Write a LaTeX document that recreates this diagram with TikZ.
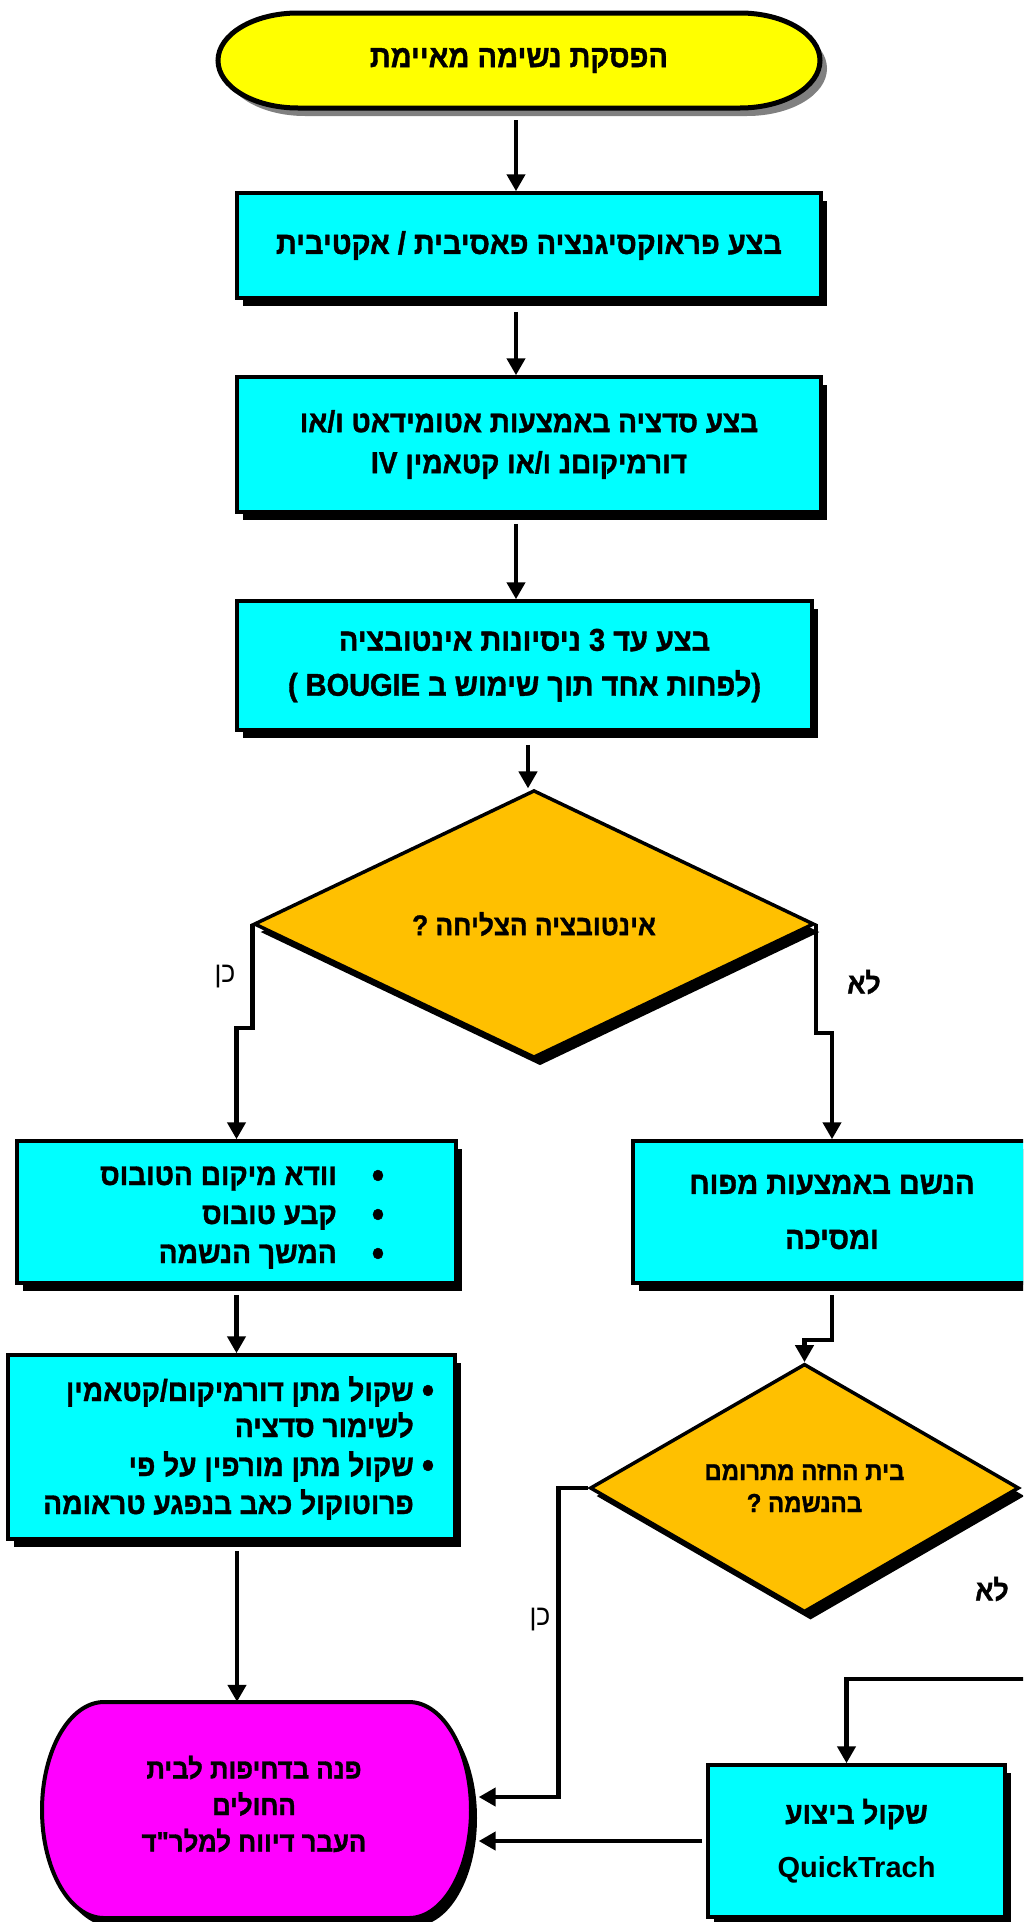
\documentclass[tikz,border=0pt]{standalone}
\usepackage{fontspec}
\setmainfont{Liberation Sans}
\newfontfamily\heb[Script=Hebrew, FakeStretch=0.92, BoldFeatures={FakeBold=1.2}]{Liberation Sans}
\newfontfamily\lat{Liberation Sans}
\TeXXeTstate=1
\usetikzlibrary{shapes.geometric,shadows,arrows.meta,calc}
\definecolor{cyanbox}{RGB}{0,255,255}
\definecolor{yelfill}{RGB}{255,255,0}
\definecolor{goldfill}{RGB}{255,192,0}
\definecolor{magfill}{RGB}{255,0,255}
\definecolor{shgray}{RGB}{128,128,128}
\tikzset{
  blackshadow/.style={drop shadow={shadow xshift=6pt, shadow yshift=-8pt, fill=black, opacity=1}},
  box/.style={rectangle, draw=black, line width=3.5pt, fill=cyanbox, inner sep=0pt, align=center,
    blackshadow, font=\heb\bfseries\fontsize{31.5}{41}\selectfont},
  dia/.style={diamond, draw=black, line width=3.5pt, fill=goldfill, inner sep=0pt, align=center,
    blackshadow, font=\heb\bfseries\fontsize{28.5}{32}\selectfont},
  termtext/.style={rectangle, inner sep=0pt, align=center, font=\heb\bfseries\fontsize{31.5}{36.5}\selectfont},
  txt/.style={inner sep=0pt, font=\heb\bfseries\fontsize{30.5}{32}\selectfont},
  bul/.style={inner sep=0pt, font=\heb\bfseries\fontsize{38}{38}\selectfont},
  conn/.style={line width=4.5pt, -{Triangle[width=18pt,length=17pt]}},
  lbl/.style={inner sep=0pt, font=\heb\fontsize{29}{30}\selectfont},
  lblb/.style={inner sep=0pt, font=\heb\bfseries\fontsize{29}{30}\selectfont},
}
\begin{document}
\begin{tikzpicture}[x=1pt,y=1pt]
\useasboundingbox (0,0) rectangle (1023,-1922);
\fill[white] (0,0) rectangle (1023,-1922);
\clip (0,0) rectangle (1023,-1922);

% top terminator
\fill[shgray] (305,-21) -- (747,-21) arc[start angle=90,end angle=-90,x radius=80,y radius=47.5]
  -- (305,-116) arc[start angle=270,end angle=90,x radius=80,y radius=47.5] -- cycle;
\filldraw[fill=yelfill, draw=black, line width=5pt] (298,-13) -- (740,-13)
  arc[start angle=90,end angle=-90,x radius=80,y radius=47.5]
  -- (298,-108) arc[start angle=270,end angle=90,x radius=80,y radius=47.5] -- cycle;
\node[termtext, minimum width=602pt, minimum height=95pt] (yel) at (519,-60.5)
  {\beginR הפסקת נשימה מאיימת\endR};

% bottom terminator
\fill[black] (110,-1710) -- (415,-1710) arc[start angle=90,end angle=-90,x radius=62,y radius=108]
  -- (110,-1926) arc[start angle=270,end angle=90,x radius=62,y radius=108] -- cycle;
\filldraw[fill=magfill, draw=black, line width=4pt] (104,-1702) -- (409,-1702)
  arc[start angle=90,end angle=-90,x radius=62,y radius=108]
  -- (104,-1918) arc[start angle=270,end angle=90,x radius=62,y radius=108] -- cycle;
\node[termtext, minimum width=429pt, minimum height=204pt, font=\heb\bfseries\fontsize{28}{36.5}\selectfont] (magn) at (254,-1804)
  {\beginR פנה בדחיפות לבית\endR\\\beginR החולים\endR\\\beginR העבר דיווח למלר"ד\endR};

% boxes
\node[box, minimum width=584pt, minimum height=105pt] (box1) at (529,-245.5)
  {\beginR בצע פראוקסיגנציה פאסיבית / אקטיבית\endR};
\node[box, minimum width=584pt, minimum height=135pt, font=\heb\bfseries\fontsize{30.5}{41}\selectfont] (box2) at (529,-444.5)
  {\beginR בצע סדציה באמצעות אטומידאט ו/או\endR\\\beginR דורמיקוםנ ו/או קטאמין IV\endR};
\node[box, minimum width=575pt, minimum height=129pt, font=\heb\bfseries\fontsize{31.5}{45}\selectfont] (box3) at (524.5,-665.5)
  {\beginR בצע עד 3 ניסיונות אינטובציה\endR\\\beginR\hbox{(}לפחות אחד תוך שימוש ב BOUGIE \hbox{)}\endR};
\node[dia, minimum width=560pt, minimum height=222pt] (d1) at (534,-924)
  {\beginR אינטובציה הצליחה ?\endR};
\node[box, minimum width=439pt, minimum height=142pt] (box4) at (236.5,-1212) {};
\node[box, minimum width=398pt, minimum height=142pt, font=\heb\bfseries\fontsize{31.5}{55}\selectfont] (box5) at (832,-1212)
  {\beginR הנשם באמצעות מפוח\endR\\\beginR ומסיכה\endR};
\node[box, minimum width=447pt, minimum height=184pt] (box6) at (231.5,-1447) {};
\node[dia, minimum width=429pt, minimum height=190pt, font=\heb\bfseries\fontsize{26}{32}\selectfont] (d2) at (804.5,-1488)
  {\beginR בית החזה מתרומם\endR\\\beginR בהנשמה ?\endR};
\node[box, minimum width=297pt, minimum height=152pt, font=\heb\bfseries\fontsize{30.5}{54}\selectfont] (box7) at (856.5,-1841)
  {\beginR שקול ביצוע\endR\\{\lat\bfseries\fontsize{29}{54}\selectfont QuickTrach}};

% bullet texts box4
\node[txt, anchor=base east] (t4a) at (337,-1185) {\beginR וודא מיקום הטובוס\endR};
\node[txt, anchor=base east] (t4b) at (337,-1224) {\beginR קבע טובוס\endR};
\node[txt, anchor=base east] (t4c) at (337,-1263) {\beginR המשך הנשמה\endR};
\node[bul, anchor=base] (u4a) at (378,-1188) {•};
\node[bul, anchor=base] (u4b) at (378,-1227) {•};
\node[bul, anchor=base] (u4c) at (378,-1266) {•};

% bullet texts box6
\node[txt, anchor=base east] (t6a) at (414,-1401) {\beginR שקול מתן דורמיקום/קטאמין\endR};
\node[txt, anchor=base east] (t6b) at (414,-1437) {\beginR לשימור סדציה\endR};
\node[txt, anchor=base east] (t6c) at (414,-1476) {\beginR שקול מתן מורפין על פי\endR};
\node[txt, anchor=base east] (t6d) at (414,-1514) {\beginR פרוטוקול כאב בנפגע טראומה\endR};
\node[bul, anchor=base] (u6a) at (428,-1403) {•};
\node[bul, anchor=base] (u6c) at (428,-1478) {•};

% labels
\node[lbl] (yes1) at (225,-977) {\beginR כן\endR};
\node[lblb] (no1) at (864,-982) {\beginR לא\endR};
\node[lbl] (yes2) at (540,-1620) {\beginR כן\endR};
\node[lblb] (no2) at (992,-1589) {\beginR לא\endR};

% connectors
\coordinate (xM) at (516,0);
\coordinate (xD) at (528,0);
\coordinate (xL) at (237,0);
\coordinate (offR) at (1030,-1679);
\draw[conn] ($(yel.south -| xM)+(0,-12)$) -- (xM |- box1.north);
\draw[conn] ($(box1.south -| xM)+(0,-12)$) -- (xM |- box2.north);
\draw[conn] ($(box2.south -| xM)+(0,-10)$) -- (xM |- box3.north);
\draw[conn] ($(box3.south -| xD)+(0,-13)$) -- (xD |- d1.north);
\draw[conn] (d1.west) -- ++(0,-104) -| (box4.north);
\draw[conn] (d1.east) -- ++(0,-109) -| (box5.north);
\draw[conn] ($(box4.south)+(0,-10)$) -- (box4.south |- box6.north);
\draw[conn] ($(xL |- box6.south)+(0,-10)$) -- (xL |- magn.north);
\draw[conn] ($(box5.south)+(0,-10)$) -- ($(box5.south)+(0,-55)$) -| (d2.north);
\draw[conn] (d2.west) -- ++(-30,0) |- ($(magn.east)+(10,7)$);
\draw[conn] ($(box7.west)+(-4,0)$) -- ($(box7.west -| magn.east)+(10,0)$);
\draw[conn] (offR) -| ($(box7.north)+(-10,0)$);
\end{tikzpicture}
\end{document}
